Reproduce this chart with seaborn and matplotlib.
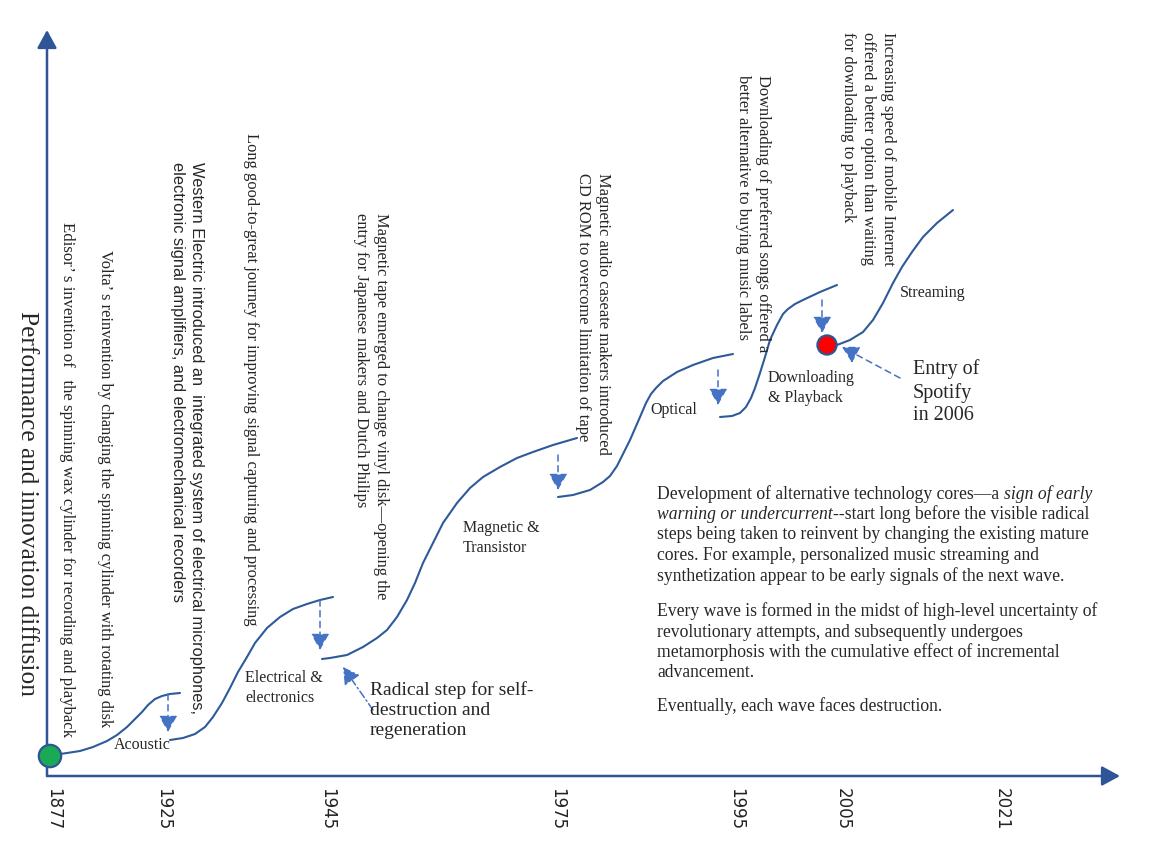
import matplotlib
matplotlib.use("Agg")
import matplotlib.pyplot as plt
import numpy as np
import pandas as pd
import seaborn as sns

# --- data (origin = corner of the two axes) ---
years = ["1877", "1925", "1945", "1975", "1995", "2005", "2021"]
year_pos = [6, 116, 280, 510, 689, 796, 955]

wave_names = ["Acoustic", "Electrical", "Magnetic", "Optical", "Downloading", "Streaming"]
acoustic_x = [3, 6, 20, 33, 46, 60, 70, 80, 88, 95, 101, 108, 115, 123, 133]
acoustic_y = [20, 21, 23, 25, 29, 35, 41, 49, 57, 64, 71, 77, 80, 82, 83]
electrical_x = [123, 136, 148, 158, 166, 175, 183, 191, 200, 208, 220, 233, 246, 260, 273, 286]
electrical_y = [36, 38, 42, 49, 59, 73, 88, 104, 119, 133, 148, 159, 167, 172, 176, 179]
magnetic_x = [275, 283, 300, 316, 330, 340, 350, 360, 368, 376, 386, 396, 410, 423, 436, 453,
              470, 486, 506, 530]
magnetic_y = [117, 118, 121, 129, 138, 146, 159, 176, 193, 213, 233, 253, 273, 288, 299, 309,
              318, 324, 331, 338]
optical_x = [511, 526, 543, 556, 563, 570, 576, 583, 593, 599, 604, 609, 616, 630, 646, 666, 686]
optical_y = [279, 281, 286, 294, 300, 310, 322, 336, 359, 373, 382, 388, 395, 404, 411, 418, 422]
download_x = [673, 685, 693, 699, 704, 708, 713, 718, 723, 730, 736, 741, 748, 756, 773, 790]
download_y = [359, 360, 363, 369, 378, 388, 403, 419, 436, 451, 462, 467, 472, 476, 484, 491]
stream_x = [790, 803, 816, 826, 836, 846, 855, 865, 876, 890, 906]
stream_y = [431, 436, 444, 456, 473, 493, 509, 524, 539, 553, 566]

# downward "drop" arrows between waves
drop_x = [121, 273, 511, 671, 775]
drop_top = [82, 176, 321, 406, 476]
drop_bottom = [44, 126, 286, 371, 443]

# entry points: Edison 1877 and Spotify 2006
entry_x = [3, 780]
entry_y = [20, 431]
entry_kind = ["Edison", "Spotify"]

wave_labels = ["Acoustic", "Electrical &\nelectronics", "Magnetic &\nTransistor",
               "Optical", "Downloading\n& Playback", "Streaming"]

notes = [
    "Edisor\u2019 s invention of   the spinning wax cylinder for recording and playback",
    "Volta\u2019 s reinvention by changing the spinning cylinder with rotating disk",
    "Western Electric introduced an  integrated system of electrical microphones,\n"
    "electronic signal amplifiers, and electromechanical recorders",
    "Long good-to-great journey for improving signal capturing and processing",
    "Magnetic tape emerged to change vinyl disk\u2014opening the\n"
    "entry for Japanese makers and Dutch Philips",
    "Magnetic audio caseate makers introduced\nCD ROM to overcome limitation of tape",
    "Downloading of preferred songs offered a\nbetter alternative to buying music labels",
    "Increasing speed of mobile Internet\noffered a better option than waiting\n"
    "for downloading to playback",
]

# paragraph lines as (text, style) segments
para_lines = [
    [("Development of alternative technology cores\u2014a ", "normal"), ("sign of early", "italic")],
    [("warning or undercurrent", "italic"), ("--start long before the visible radical", "normal")],
    [("steps being taken to reinvent by changing the existing mature", "normal")],
    [("cores. For example, personalized music streaming and", "normal")],
    [("synthetization appear to be early signals of the next wave.", "normal")],
    [("Every wave is formed in the midst of high-level uncertainty of", "normal")],
    [("revolutionary attempts, and subsequently undergoes", "normal")],
    [("metamorphosis with the cumulative effect of incremental", "normal")],
    [("advancement.", "normal")],
    [("Eventually, each wave faces destruction.", "normal")],
]
para_base = [277, 257, 237, 216, 195, 160, 139, 119, 99, 65]

AXIS = "#2F5597"
CURVE = "#2F5A9A"
ARROW = "#4472C4"

sns.set_theme(style="white")
plt.rcParams["font.family"] = ["Liberation Serif", "DejaVu Serif"]

waves = pd.concat([
    pd.DataFrame({"x": xs, "y": ys, "wave": name})
    for name, xs, ys in zip(wave_names,
                            [acoustic_x, electrical_x, magnetic_x, optical_x, download_x, stream_x],
                            [acoustic_y, electrical_y, magnetic_y, optical_y, download_y, stream_y])
])
entries = pd.DataFrame({"x": entry_x, "y": entry_y, "kind": entry_kind})

fig = plt.figure(figsize=(11.6, 8.56), dpi=100)
ax = fig.add_axes([0, 0, 1, 1])
ax.set_xlim(-47, 1113)
ax.set_ylim(-80, 776)

# axes drawn as arrows
for s in ax.spines.values():
    s.set_visible(False)
ax.spines["bottom"].set_position(("data", 0))
axis_arrow = dict(arrowstyle="-|>,head_length=0.55,head_width=0.3", color=AXIS, lw=1.8,
                  mutation_scale=20, shrinkA=0, shrinkB=0)
ax.annotate("", xy=(1073, 0), xytext=(0, 0), arrowprops=axis_arrow)
ax.annotate("", xy=(0, 746), xytext=(0, 0), arrowprops=axis_arrow)
ax.set_xticks(year_pos, years, rotation=270, fontfamily="DejaVu Sans", fontsize=12,
              color="#222222")
ax.set_yticks([])
ax.tick_params(axis="x", length=0, pad=9)
ax.text(-20, 273, "Performance and innovation diffusion", rotation=270,
        ha="center", va="center", fontsize=18.3)

# S-curves
sns.lineplot(data=waves, x="x", y="y", units="wave", estimator=None, sort=False,
             color=CURVE, lw=1.5, ax=ax, legend=False)
for ln in ax.lines:
    ln.set_solid_joinstyle("round")
ax.set_xlabel("")
ax.set_ylabel("")

# drop arrows
drop_style = dict(arrowstyle="-|>,head_length=0.5,head_width=0.28", color=ARROW, lw=1.1,
                  ls=(0, (4, 3)), mutation_scale=20, shrinkA=0, shrinkB=0)
for x, y0, y1 in zip(drop_x, drop_top, drop_bottom):
    ax.annotate("", xy=(x, y1), xytext=(x, y0), arrowprops=drop_style)

# entry dots
sns.scatterplot(data=entries, x="x", y="y", hue="kind",
                palette={"Edison": "#1AAA55", "Spotify": "#FF0000"},
                s=[260, 190], edgecolor=AXIS, linewidth=1.6, zorder=5,
                legend=False, ax=ax)
ax.set_xlabel("")
ax.set_ylabel("")

# wave labels
label_pos = [(95, 31, "center"), (198, 88, "left"), (416, 238, "left"),
             (603, 366, "left"), (721, 388, "left"), (853, 483, "left")]
for (x, y, ha), txt in zip(label_pos, wave_labels):
    ax.text(x, y, txt, ha=ha, va="center", fontsize=11.5, linespacing=1.4)

# rotated notes (x = centre of block, y = top)
note_pos = [(20, 554), (58, 526), (140, 614), (204, 643),
            (324, 563), (546, 603), (706, 701), (821, 744)]
for i, ((x, y), txt) in enumerate(zip(note_pos, notes)):
    if i == 2:
        kw = dict(fontfamily=["Liberation Sans Narrow", "Liberation Sans"], fontsize=11.8,
                  linespacing=1.33)
    elif i == 0:
        kw = dict(fontsize=12.1, linespacing=1.35)
    else:
        kw = dict(fontsize=11.9, linespacing=1.35)
    ax.text(x, y, txt, rotation=270, ha="center", va="top", multialignment="left", **kw)

# call-outs
callout_dd = dict(drop_style, ls=(0, (5, 2, 1, 2)))
ax.annotate("", xy=(296, 109), xytext=(326, 66), arrowprops=callout_dd)
ax.text(323, 66, "Radical step for self-\ndestruction and\nregeneration",
        ha="left", va="center", fontsize=14, linespacing=1.2)
ax.annotate("", xy=(795, 429), xytext=(853, 398), arrowprops=drop_style)
ax.text(866, 384, "Entry of\nSpotify\nin 2006", ha="left", va="center",
        fontsize=14.5, linespacing=1.22)

# explanatory paragraphs, line by line so italics can sit inside a line
PSIZE = 12.7
for yb, segs in zip(para_base, para_lines):
    prev = None
    for txt, style in segs:
        if prev is None:
            prev = ax.text(610, yb, txt, ha="left", va="baseline", fontsize=PSIZE, style=style)
        else:
            prev = ax.annotate(txt, xy=(1, 0), xycoords=prev, ha="left", va="bottom",
                               fontsize=PSIZE, style=style)

fig.savefig("out.png", dpi=100)
